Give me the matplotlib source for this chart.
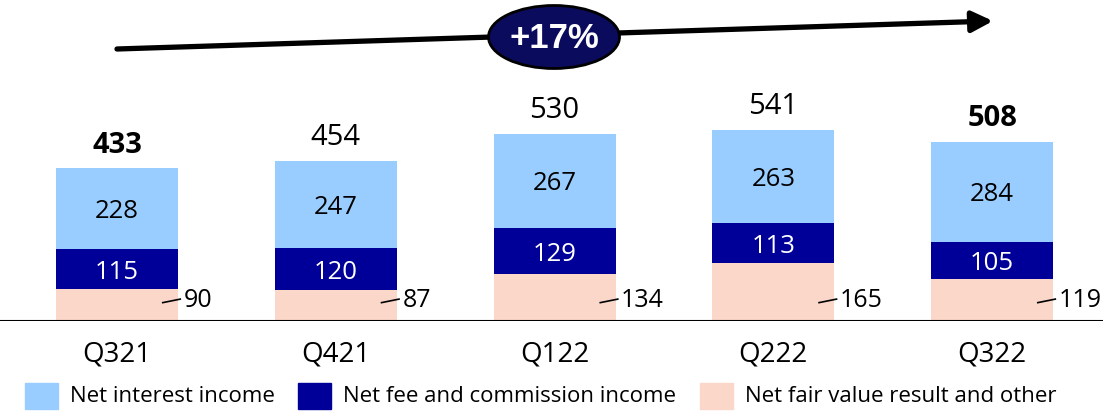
import matplotlib
matplotlib.use("Agg")
import matplotlib.pyplot as plt
from matplotlib.patches import Ellipse, Rectangle

quarters = ["Q321", "Q421", "Q122", "Q222", "Q322"]
interest = [228, 247, 267, 263, 284]
fees = [115, 120, 129, 113, 105]
fair_value = [90, 87, 134, 165, 119]
totals = [433, 454, 530, 541, 508]
bold_totals = [True, False, False, False, True]
growth_label = "+17%"
series_names = ["Net interest income", "Net fee and commission income",
                "Net fair value result and other"]
colors = ["#99CCFF", "#000099", "#FAD7C8"]

plt.rcParams["font.family"] = ["Open Sans", "DejaVu Sans"]

W, H = 1103, 414
fig = plt.figure(figsize=(W / 100, H / 100), dpi=100)
ax = fig.add_axes([0, 92 / H, 1, 322 / H])

x = list(range(len(quarters)))
width = 0.558
ax.bar(x, fair_value, width, color=colors[2], zorder=2)
ax.bar(x, fees, width, bottom=fair_value, color=colors[1], zorder=2)
base2 = [a + b for a, b in zip(fair_value, fees)]
ax.bar(x, interest, width, bottom=base2, color=colors[0], zorder=2)

ax.axhline(0, color="black", lw=1.5, zorder=3)

for i in x:
    # labels nudged down a touch so the digits sit visually centred
    ax.text(i, fair_value[i] + fees[i] / 2 - 7, str(fees[i]), ha="center", va="center",
            color="white", fontsize=18.5)
    ax.text(i, base2[i] + interest[i] / 2 - 5, str(interest[i]), ha="center", va="center",
            color="black", fontsize=18.5)
    ax.annotate(str(totals[i]), (i, totals[i]), textcoords="offset pixels", xytext=(0, 24),
                ha="center", va="center", fontsize=21,
                fontweight="bold" if bold_totals[i] else "normal")
    # small leader line + outside label for the fair value segment
    r = i + width / 2
    ax.plot([r - 0.07, r + 0.01], [52, 62], color="black", lw=1.2, zorder=4)
    ax.text(r + 0.025, 60, str(fair_value[i]), ha="left", va="center", fontsize=18)

ax.set_xlim(-0.535, 4.507)
ax.set_ylim(0, 912)
ax.set_xticks(x, quarters, fontsize=20)
ax.tick_params(axis="x", length=0, pad=13)
ax.set_yticks([])
for s in ax.spines.values():
    s.set_visible(False)

# growth arrow with the ellipse badge
ax.annotate("", xy=(993 / W, 1 - 22 / H), xytext=(117 / W, 1 - 50 / H),
            xycoords="figure fraction", textcoords="figure fraction",
            arrowprops=dict(arrowstyle="-|>,head_length=0.9,head_width=0.45",
                            lw=3.8, color="black", mutation_scale=14, shrinkA=0, shrinkB=0))
fig.patches.append(Ellipse((554 / W, 1 - 38 / H), 131 / W, 63 / H, transform=fig.transFigure,
                           facecolor="#0B0B5E", edgecolor="black", lw=2, zorder=5))
fig.text(554 / W, 1 - 38 / H, growth_label, ha="center", va="center", color="white",
         fontsize=25, fontweight="bold", family=["Liberation Sans", "DejaVu Sans"],
         zorder=6)

# legend
patch_x = [25, 298, 700]
for px, name, c in zip(patch_x, series_names, colors):
    fig.patches.append(Rectangle((px / W, 1 - 410 / H), 33 / W, 26 / H,
                                 transform=fig.transFigure, color=c))
    fig.text((px + 45) / W, 1 - 397 / H, name, ha="left", va="center", fontsize=16)

fig.savefig("out.png")
